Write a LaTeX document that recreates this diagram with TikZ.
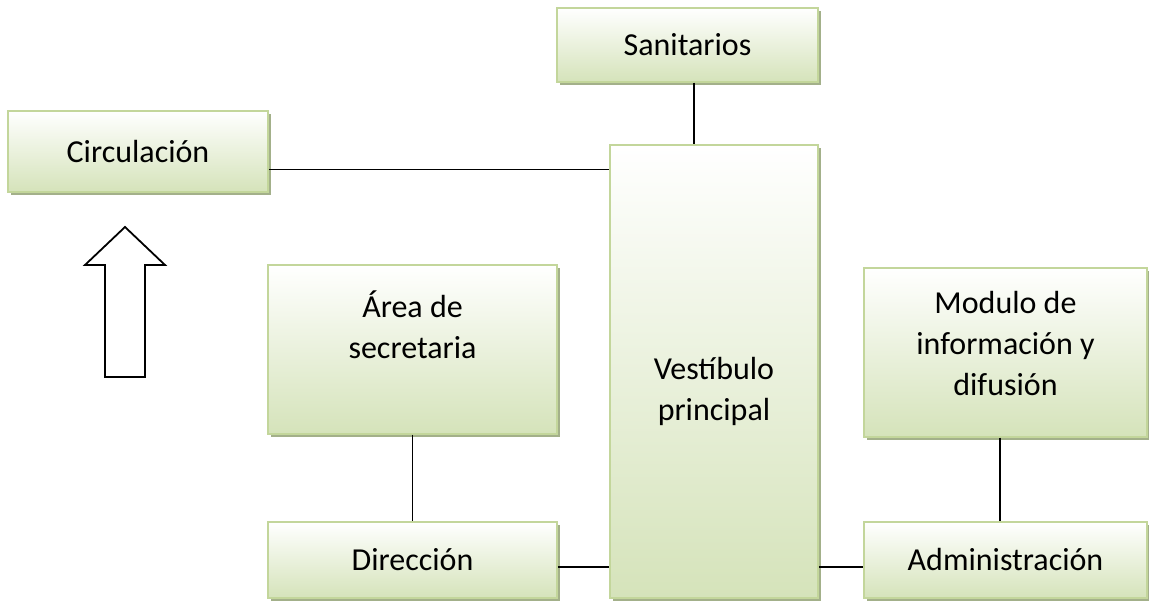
\documentclass[tikz,border=0pt]{standalone}
\usepackage{fontspec}
\setmainfont{Carlito}
\usetikzlibrary{shadows}
\definecolor{borde}{HTML}{C3D69B}
\definecolor{verde}{HTML}{D5E3BA}
\definecolor{sombra}{HTML}{A3B08A}
\begin{document}
\begin{tikzpicture}[x=1pt,y=1pt,
    caja/.style={draw=borde,line width=1.5pt,top color=white,bottom color=verde,
        drop shadow={shadow xshift=3pt,shadow yshift=-3pt,fill=sombra,opacity=1},
        align=center,inner sep=0pt,font=\fontsize{32}{41}\selectfont},
    linea/.style={line width=1.8pt}]

    \useasboundingbox (0,0) rectangle (1149,610);

    % Cajas
    \node[caja,minimum width=260pt,minimum height=81pt] (circ) at (138,458.5) {Circulación};
    \node[caja,minimum width=261pt,minimum height=74pt] (sanit) at (687.5,565) {Sanitarios};
    \node[caja,minimum width=208pt,minimum height=453pt,text height=104pt] (vest) at (714,238.5) {Vestíbulo\\principal};
    \node[caja,minimum width=289pt,minimum height=169pt,text depth=50pt] (area) at (412.5,260.5) {Área de\\secretaria};
    \node[caja,minimum width=289pt,minimum height=76pt] (dir) at (412.5,50) {Dirección};
    \node[caja,minimum width=283pt,minimum height=169pt,text depth=19pt] (modulo) at (1005.5,257.5) {Modulo de\\información y\\difusión};
    \node[caja,minimum width=283pt,minimum height=76pt] (admin) at (1005.5,50) {Administración};

    % Conexiones
    \draw[linea] ([yshift=-18pt]circ.east) -- ([yshift=-18pt]circ.east -| vest.west);
    \draw[linea] ([xshift=6.5pt]sanit.south) -- ([xshift=6.5pt]sanit.south |- vest.north);
    \draw[linea] (area) -- (dir);
    \draw[linea] ([yshift=-7pt]dir.east) -- ([yshift=-7pt]dir.east -| vest.west);
    \draw[linea] ([yshift=-7pt]dir.east -| vest.east) -- ([yshift=-7pt]admin.west);
    \draw[linea] ([xshift=-5.5pt]modulo.south) -- ([xshift=-5.5pt]admin.north);

    % Flecha
    \draw[line width=1.8pt] (125,383) -- (165,345) -- (145,345) -- (145,233)
        -- (105,233) -- (105,345) -- (85,345) -- cycle;

\end{tikzpicture}
\end{document}
